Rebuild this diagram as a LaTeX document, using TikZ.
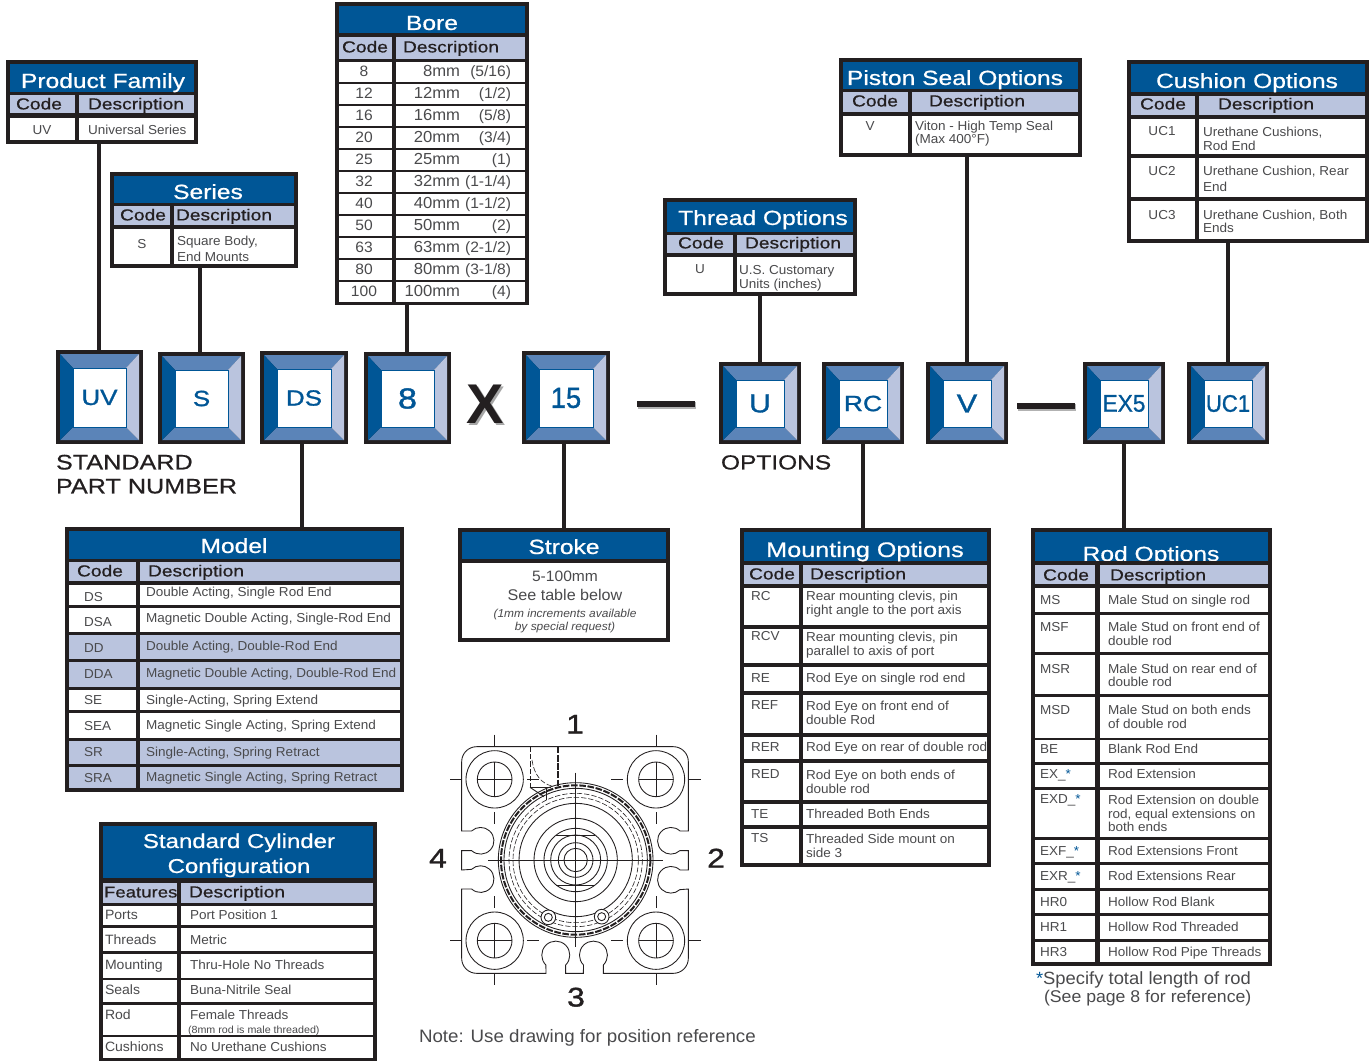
\documentclass[tikz,border=0pt]{standalone}
\usepackage{fontspec}
\usepackage{graphicx}
\setmainfont{Liberation Sans}
\newfontfamily\hdfont[FakeStretch=1.2,FakeBold=0.7]{Liberation Sans}
\newfontfamily\colfont[FakeStretch=1.2,FakeBold=0.6]{Liberation Sans}
\newfontfamily\bgfont[FakeStretch=1.18,FakeBold=1.2]{Liberation Sans}
\newfontfamily\bdfont[FakeStretch=1.04]{Liberation Sans}
\definecolor{ink}{HTML}{231F20}
\definecolor{navy}{HTML}{005696}
\definecolor{lav}{HTML}{BAC4DE}
\definecolor{midb}{HTML}{5B84B8}
\definecolor{txtg}{HTML}{4A4A4C}
\newcounter{tn}
\newcommand{\px}[1]{\fontsize{\fpeval{#1*0.75}}{\fpeval{#1*0.9}}\selectfont}
\tikzset{
 x=0.75pt,y=-0.75pt,
 cellbox/.style={inner sep=0pt,outer sep=0pt,draw=none},
 frame/.style={cellbox,fill=ink},
 head/.style={cellbox,fill=navy},
 colh/.style={cellbox,fill=lav},
 wht/.style={cellbox,fill=white},
 lavrow/.style={cellbox,fill=lav},
 txt/.style={inner sep=0pt,outer sep=0pt,text=txtg,font=\bdfont\px{13}},
 htxt/.style={inner sep=0pt,outer sep=0pt,text=white,yshift=-4.1pt,font=\hdfont\px{20.5}},
 ctxt/.style={inner sep=0pt,outer sep=0pt,text=ink,yshift=-0.7pt,font=\colfont\px{16}},
 labeltxt/.style={inner sep=0pt,outer sep=0pt,text=ink,yshift=-5.2pt,font=\colfont\px{21}},
 numtxt/.style={inner sep=0pt,outer sep=0pt,text=ink,yshift=-4.5pt,font=\bgfont\px{27}},
 link/.style={draw=ink,line width=3pt},
 line/.style={draw=ink,line width=0.65pt},
 cl/.style={draw=ink,line width=0.4pt},
 dsh/.style={draw=ink,line width=0.45pt,dash pattern=on 4pt off 1.5pt},
 dthick/.style={draw=ink,line width=1.5pt,dash pattern=on 5pt off 1.2pt},
}
\newcommand{\rct}[6]{\node[#6,minimum width={(#4-(#2))*0.75pt},minimum height={(#5-(#3))*0.75pt}] (#1) at ({(#2+#4)/2},{(#3+#5)/2}) {};}
\newcommand{\cell}[5]{\stepcounter{tn}\rct{c\thetn}{#1}{#2}{#3}{#4}{#5}}
\newcommand{\tl}[4][txt]{\stepcounter{tn}\node[#1,anchor=base west] (t\thetn) at (#2,{#3+4.5}) {#4};}
\newcommand{\tr}[4][txt]{\stepcounter{tn}\node[#1,anchor=base east] (t\thetn) at (#2,{#3+4.5}) {#4};}
\newcommand{\tcc}[4][txt]{\stepcounter{tn}\node[#1,anchor=base] (t\thetn) at (#2,{#3+4.5}) {#4};}
\newcommand{\shell}[9]{\rct{#1}{#2}{#3}{#4}{#5}{frame}\cell{#2+4}{#3+4}{#4-4}{#6}{head}\cell{#2+4}{#7}{#8}{#9}{colh}}
\newcommand{\badge}[6]{%
 \rct{#1}{#2}{#3}{#4}{#5}{frame}
 \fill[midb] ({#2+4},{#3+4}) -- ({#4-4},{#3+4}) -- ({#4-17},{#3+18}) -- ({#2+17},{#3+18}) -- cycle;
 \fill[midb] ({#2+4},{#5-4}) -- ({#4-4},{#5-4}) -- ({#4-17},{#5-17}) -- ({#2+17},{#5-17}) -- cycle;
 \fill[navy] ({#2+4},{#3+4}) -- ({#2+17},{#3+18}) -- ({#2+17},{#5-17}) -- ({#2+4},{#5-4}) -- cycle;
 \fill[lav] ({#4-4},{#3+4}) -- ({#4-17},{#3+18}) -- ({#4-17},{#5-17}) -- ({#4-4},{#5-4}) -- cycle;
 \node[cellbox,fill=white,draw=navy,line width=0.4pt,text=navy,font=\bgfont\px{22},
   minimum width={(#4-(#2)-34)*0.75pt},minimum height={(#5-(#3)-35)*0.75pt}] (#1face) at ({(#2+#4)/2},{(#3+#5+1)/2}) {#6};}
\newcommand{\borerow}[4]{\cell{339}{#1-10}{392}{#1+10}{wht}\cell{396}{#1-10}{525}{#1+10}{wht}
 \tcc[txt,font=\bdfont\px{15}]{364}{#1}{#2}\tr[txt,font=\bdfont\px{16}]{460}{#1}{#3}\tr[txt,font=\bdfont\px{15}]{511}{#1}{#4}}
\begin{document}
\begin{tikzpicture}
\useasboundingbox (0,0) rectangle (1370,1061);
\fill[white] (0,0) rectangle (1370,1061);

% ---- Product Family
\shell{pf}{6}{60}{198}{144}{92}{95}{75}{113}
\cell{79}{95}{194}{113}{colh}
\cell{10}{118}{75}{140}{wht}\cell{79}{118}{194}{140}{wht}
\tcc[htxt]{103}{78}{Product Family}
\tcc[ctxt]{39}{104}{Code}\tl[ctxt]{88}{104}{Description}
\tcc{42}{130}{UV}\tl{88}{130}{Universal Series}

% ---- Series
\shell{ser}{110}{172}{298}{268}{203}{206}{170}{225}
\cell{174}{206}{294}{225}{colh}
\cell{114}{229}{170}{264}{wht}\cell{174}{229}{294}{264}{wht}
\tcc[htxt]{208}{189}{Series}
\tcc[ctxt]{143}{215}{Code}\tl[ctxt]{176}{215}{Description}
\tcc{142}{244}{S}\tl{177}{241}{Square Body,}\tl{177}{257}{End Mounts}

% ---- Bore
\shell{bore}{335}{2}{529}{305}{33}{37}{392}{59}
\cell{396}{37}{525}{59}{colh}
\tcc[htxt]{432}{20}{Bore}
\tcc[ctxt]{365}{47}{Code}\tl[ctxt]{403}{47}{Description}
\borerow{71.5}{8}{8mm}{(5/16)}
\borerow{93.5}{12}{12mm}{(1/2)}
\borerow{115.5}{16}{16mm}{(5/8)}
\borerow{137.5}{20}{20mm}{(3/4)}
\borerow{159.5}{25}{25mm}{(1)}
\borerow{181.5}{32}{32mm}{(1-1/4)}
\borerow{203.5}{40}{40mm}{(1-1/2)}
\borerow{226}{50}{50mm}{(2)}
\borerow{248}{63}{63mm}{(2-1/2)}
\borerow{270}{80}{80mm}{(3-1/8)}
\borerow{292}{100}{100mm}{(4)}

% ---- Thread Options
\shell{thr}{663}{198}{857}{296}{232}{235}{733}{253}
\cell{737}{235}{853}{253}{colh}
\cell{667}{257}{733}{292}{wht}\cell{737}{257}{853}{292}{wht}
\tcc[htxt]{763}{215}{Thread Options}
\tcc[ctxt]{701}{243}{Code}\tl[ctxt]{745}{243}{Description}
\tcc{700}{269}{U}\tl{739}{270}{U.S. Customary}\tl{739}{284}{Units (inches)}

% ---- Piston Seal Options
\shell{pis}{839}{58}{1082}{157}{89}{92}{908}{112}
\cell{912}{92}{1078}{112}{colh}
\cell{843}{116}{908}{153}{wht}\cell{912}{116}{1078}{153}{wht}
\tcc[htxt]{955}{75}{Piston Seal Options}
\tcc[ctxt]{875}{101}{Code}\tl[ctxt]{929}{101}{Description}
\tcc{870}{126}{V}\tl{915}{126}{Viton - High Temp Seal}\tl{915}{139}{(Max 400°F)}

% ---- Cushion Options
\shell{cus}{1127}{60}{1369}{243}{92}{96}{1195}{115}
\cell{1199}{96}{1365}{115}{colh}
\cell{1131}{119}{1195}{154}{wht}\cell{1199}{119}{1365}{154}{wht}
\cell{1131}{158}{1195}{197}{wht}\cell{1199}{158}{1365}{197}{wht}
\cell{1131}{201}{1195}{239}{wht}\cell{1199}{201}{1365}{239}{wht}
\tcc[htxt]{1247}{78}{Cushion Options}
\tcc[ctxt]{1163}{104}{Code}\tl[ctxt]{1218}{104}{Description}
\tcc{1162}{131}{UC1}\tl{1203}{132}{Urethane Cushions,}\tl{1203}{146}{Rod End}
\tcc{1162}{171}{UC2}\tl{1203}{171}{Urethane Cushion, Rear}\tl{1203}{187}{End}
\tcc{1162}{215}{UC3}\tl{1203}{215}{Urethane Cushion, Both}\tl{1203}{228}{Ends}

% ---- Badges
\badge{uv}{56}{350}{143}{444}{UV}
\badge{s}{158}{352}{245}{444}{S}
\badge{ds}{260}{351}{348}{444}{DS}
\badge{eight}{364}{352}{451}{444}{\px{29}8}
\badge{fifteen}{522}{351}{610}{444}{\px{29}\scalebox{0.8}[1]{15}}
\badge{u}{719}{362}{801}{444}{\px{26}U}
\badge{rc}{822}{362}{904}{444}{\scalebox{1.02}[1]{RC}}
\badge{v}{926}{362}{1008}{444}{\px{26}V}
\badge{ex}{1083}{362}{1165}{444}{\px{24}\scalebox{0.8}[1]{EX5}}
\badge{uc}{1187}{362}{1269}{444}{\px{24}\scalebox{0.78}[1]{UC1}}

% ---- X and dashes
\node[inner sep=0pt,text=gray!70,font=\bfseries\px{56}] (xsh) at (487,406) {X};
\node[inner sep=0pt,text=ink,font=\bfseries\px{56}] (xmark) at (485,404) {X};
\rct{d1s}{638}{402}{696}{409}{cellbox,fill=gray!60}
\rct{d1}{637}{401}{695}{407}{frame}
\rct{d2s}{1018}{404}{1076}{411}{cellbox,fill=gray!60}
\rct{d2}{1017}{403}{1075}{409}{frame}

\tl[labeltxt]{56}{458}{STANDARD}
\tl[labeltxt]{56}{482}{PART NUMBER}
\tl[labeltxt,font=\colfont\px{20.4}]{721}{458}{OPTIONS}

% ---- Model
\shell{model}{65}{527}{404}{792}{559}{562}{136}{581}
\cell{140}{562}{400}{581}{colh}
\tcc[htxt]{234}{543}{Model}
\tcc[ctxt]{100}{571}{Code}\tl[ctxt]{148}{571}{Description}
\cell{69}{585}{136}{605}{wht}\cell{140}{585}{400}{605}{wht}
\cell{69}{608}{136}{632}{wht}\cell{140}{608}{400}{632}{wht}
\cell{69}{635}{136}{659}{lavrow}\cell{140}{635}{400}{659}{lavrow}
\cell{69}{662}{136}{687}{lavrow}\cell{140}{662}{400}{687}{lavrow}
\cell{69}{690}{136}{710}{wht}\cell{140}{690}{400}{710}{wht}
\cell{69}{713}{136}{738}{wht}\cell{140}{713}{400}{738}{wht}
\cell{69}{741}{136}{764}{lavrow}\cell{140}{741}{400}{764}{lavrow}
\cell{69}{767}{136}{788}{lavrow}\cell{140}{767}{400}{788}{lavrow}
\tl{84}{597}{DS}\tl{146}{592}{Double Acting, Single Rod End}
\tl{84}{622}{DSA}\tl{146}{618}{Magnetic Double Acting, Single-Rod End}
\tl{84}{648}{DD}\tl{146}{646}{Double Acting, Double-Rod End}
\tl{84}{674}{DDA}\tl{146}{673}{Magnetic Double Acting, Double-Rod End}
\tl{84}{700}{SE}\tl{146}{700}{Single-Acting, Spring Extend}
\tl{84}{726}{SEA}\tl{146}{725}{Magnetic Single Acting, Spring Extend}
\tl{84}{752}{SR}\tl{146}{752}{Single-Acting, Spring Retract}
\tl{84}{778}{SRA}\tl{146}{777}{Magnetic Single Acting, Spring Retract}

% ---- Stroke
\rct{stroke}{458}{528}{670}{642}{frame}
\cell{462}{532}{666}{559}{head}
\cell{462}{563}{666}{638}{wht}
\tcc[htxt]{564}{544}{Stroke}
\tcc[txt,font=\bdfont\px{15}]{565}{577}{5-100mm}
\tcc[txt,font=\bdfont\px{15.5}]{565}{596}{See table below}
\tcc[txt,font=\bdfont\itshape\px{11.5}]{565}{613}{(1mm increments available}
\tcc[txt,font=\bdfont\itshape\px{11.5}]{565}{626}{by special request)}

% ---- Mounting Options
\shell{mount}{740}{528}{991}{867}{561}{565}{799}{584}
\cell{803}{565}{987}{584}{colh}
\tcc[htxt,font=\hdfont\px{21}]{865}{547}{Mounting Options}
\tcc[ctxt]{772}{574}{Code}\tl[ctxt]{810}{574}{Description}
\cell{744}{588}{799}{625}{wht}\cell{803}{588}{987}{625}{wht}
\cell{744}{629}{799}{663}{wht}\cell{803}{629}{987}{663}{wht}
\cell{744}{667}{799}{691}{wht}\cell{803}{667}{987}{691}{wht}
\cell{744}{695}{799}{733}{wht}\cell{803}{695}{987}{733}{wht}
\cell{744}{737}{799}{759}{wht}\cell{803}{737}{987}{759}{wht}
\cell{744}{763}{799}{800}{wht}\cell{803}{763}{987}{800}{wht}
\cell{744}{804}{799}{825}{wht}\cell{803}{804}{987}{825}{wht}
\cell{744}{829}{799}{863}{wht}\cell{803}{829}{987}{863}{wht}
\tl{751}{596}{RC}\tl{806}{596}{Rear mounting clevis, pin}\tl{806}{610}{right angle to the port axis}
\tl{751}{636}{RCV}\tl{806}{637}{Rear mounting clevis, pin}\tl{806}{651}{parallel to axis of port}
\tl{751}{678}{RE}\tl{806}{678}{Rod Eye on single rod end}
\tl{751}{705}{REF}\tl{806}{706}{Rod Eye on front end of}\tl{806}{720}{double Rod}
\tl{751}{747}{RER}\tl{806}{747}{Rod Eye on rear of double rod}
\tl{751}{774}{RED}\tl{806}{775}{Rod Eye on both ends of}\tl{806}{789}{double rod}
\tl{751}{814}{TE}\tl{806}{814}{Threaded Both Ends}
\tl{751}{838}{TS}\tl{806}{839}{Threaded Side mount on}\tl{806}{853}{side 3}

% ---- Rod Options
\shell{rod}{1031}{528}{1272}{966}{561}{565}{1095}{584}
\cell{1100}{565}{1268}{584}{colh}
\begin{scope}
\clip (1035,533) rectangle (1268,560);
\tcc[htxt]{1151}{551}{Rod Options}
\end{scope}
\tcc[ctxt]{1066}{575}{Code}\tl[ctxt]{1110}{575}{Description}
\cell{1035}{588}{1095}{612}{wht}\cell{1100}{588}{1268}{612}{wht}
\cell{1035}{615}{1095}{652}{wht}\cell{1100}{615}{1268}{652}{wht}
\cell{1035}{655}{1095}{694}{wht}\cell{1100}{655}{1268}{694}{wht}
\cell{1035}{697}{1095}{738}{wht}\cell{1100}{697}{1268}{738}{wht}
\cell{1035}{740}{1095}{762}{wht}\cell{1100}{740}{1268}{762}{wht}
\cell{1035}{765}{1095}{787}{wht}\cell{1100}{765}{1268}{787}{wht}
\cell{1035}{790}{1095}{837}{wht}\cell{1100}{790}{1268}{837}{wht}
\cell{1035}{840}{1095}{862}{wht}\cell{1100}{840}{1268}{862}{wht}
\cell{1035}{865}{1095}{888}{wht}\cell{1100}{865}{1268}{888}{wht}
\cell{1035}{891}{1095}{913}{wht}\cell{1100}{891}{1268}{913}{wht}
\cell{1035}{916}{1095}{939}{wht}\cell{1100}{916}{1268}{939}{wht}
\cell{1035}{942}{1095}{962}{wht}\cell{1100}{942}{1268}{962}{wht}
\tl{1040}{600}{MS}\tl{1108}{600}{Male Stud on single rod}
\tl{1040}{627}{MSF}\tl{1108}{627}{Male Stud on front end of}\tl{1108}{641}{double rod}
\tl{1040}{669}{MSR}\tl{1108}{669}{Male Stud on rear end of}\tl{1108}{682}{double rod}
\tl{1040}{710}{MSD}\tl{1108}{710}{Male Stud on both ends}\tl{1108}{724}{of double rod}
\tl{1040}{749}{BE}\tl{1108}{749}{Blank Rod End}
\tl{1040}{774}{EX\_\textcolor{navy}{*}}\tl{1108}{774}{Rod Extension}
\tl{1040}{799}{EXD\_\textcolor{navy}{*}}\tl{1108}{800}{Rod Extension on double}\tl{1108}{814}{rod, equal extensions on}\tl{1108}{827}{both ends}
\tl{1040}{851}{EXF\_\textcolor{navy}{*}}\tl{1108}{851}{Rod Extensions Front}
\tl{1040}{876}{EXR\_\textcolor{navy}{*}}\tl{1108}{876}{Rod Extensions Rear}
\tl{1040}{902}{HR0}\tl{1108}{902}{Hollow Rod Blank}
\tl{1040}{927}{HR1}\tl{1108}{927}{Hollow Rod Threaded}
\tl{1040}{952}{HR3}\tl{1108}{952}{Hollow Rod Pipe Threads}
\tl[txt,font=\bdfont\px{17.7}]{1036}{980}{\textcolor{navy}{*}Specify total length of rod}
\tl[txt,font=\bdfont\px{17}]{1044}{998}{(See page 8 for reference)}

% ---- Standard Cylinder Configuration
\shell{std}{99}{822}{377}{1061}{878}{883}{177}{903}
\cell{181}{883}{373}{903}{colh}
\tcc[htxt,font=\hdfont\px{20}]{239}{838}{Standard Cylinder}
\tcc[htxt,font=\hdfont\px{20}]{239}{863}{Configuration}
\tl[ctxt,font=\colfont\px{15.5}]{104}{892}{Features}\tl[ctxt]{189}{892}{Description}
\cell{103}{906}{177}{925}{wht}\cell{181}{906}{373}{925}{wht}
\cell{103}{928}{177}{951}{wht}\cell{181}{928}{373}{951}{wht}
\cell{103}{954}{177}{978}{wht}\cell{181}{954}{373}{978}{wht}
\cell{103}{980}{177}{1002}{wht}\cell{181}{980}{373}{1002}{wht}
\cell{103}{1005}{177}{1035}{wht}\cell{181}{1005}{373}{1035}{wht}
\cell{103}{1037}{177}{1058}{wht}\cell{181}{1037}{373}{1058}{wht}
\tl[txt,font=\bdfont\px{13.5}]{105}{915}{Ports}\tl{190}{915}{Port Position 1}
\tl[txt,font=\bdfont\px{13.5}]{105}{940}{Threads}\tl{190}{940}{Metric}
\tl[txt,font=\bdfont\px{13.5}]{105}{965}{Mounting}\tl{190}{965}{Thru-Hole No Threads}
\tl[txt,font=\bdfont\px{13.5}]{105}{990}{Seals}\tl{190}{990}{Buna-Nitrile Seal}
\tl[txt,font=\bdfont\px{13.5}]{105}{1015}{Rod}\tl{190}{1015}{Female Threads}
\tl[txt,font=\bdfont\px{10.3}]{188}{1029}{(8mm rod is male threaded)}
\tl[txt,font=\bdfont\px{13.5}]{105}{1047}{Cushions}\tl{190}{1047}{No Urethane Cushions}

% ---- Connectors
\draw[link] ([xshift=-0.7pt]uv.north |- pf.south) -- ([xshift=-0.7pt]uv.north);
\draw[link] ([xshift=-1pt]s.north |- ser.south) -- ([xshift=-1pt]s.north);
\draw[link] ([xshift=-0.5pt]eight.north |- bore.south) -- ([xshift=-0.5pt]eight.north);
\draw[link] (thr.south -| u.north) -- (u.north);
\draw[link] (pis.south -| v.north) -- (v.north);
\draw[link] (cus.south -| uc.north) -- (uc.north);
\draw[link] ([xshift=-1.5pt]ds.south) -- ([xshift=-1.5pt]ds.south |- model.north);
\draw[link] ([xshift=-1.5pt]fifteen.south) -- ([xshift=-1.5pt]fifteen.south |- stroke.north);
\draw[link] (rc.south) -- (rc.south |- mount.north);
\draw[link] (ex.south) -- (ex.south |- rod.north);

% ---- Cylinder end view
\tcc[numtxt]{575}{723}{1}
\tcc[numtxt]{716}{857}{2}
\tcc[numtxt]{576}{996}{3}
\tcc[numtxt]{438}{857}{4}
\begin{scope}[shift={(420,700)},x=0.25pt,y=-0.25pt]
 \draw[line] (170,140) -- (760,140) arc[start angle=-90,end angle=0,radius=45]
  -- (805,393) -- (780,393) arc[start angle=-47,end angle=-312,radius=40]
  -- (805,452) -- (805,510) -- (780,510) arc[start angle=-47,end angle=-312,radius=40]
  -- (805,567) -- (805,775) arc[start angle=0,end angle=90,radius=45]
  -- (550,820) -- (550,795) arc[start angle=45,end angle=-225,radius=42]
  -- (490,820) -- (437,820) -- (437,795) arc[start angle=45,end angle=-225,radius=42]
  -- (378,820) -- (170,820) arc[start angle=90,end angle=180,radius=45]
  -- (125,567) -- (155,567) arc[start angle=132,end angle=-133,radius=40]
  -- (125,510) -- (125,452) -- (155,452) arc[start angle=132,end angle=-133,radius=40]
  -- (125,393) -- (125,185) arc[start angle=180,end angle=270,radius=45] -- cycle;
 \foreach \cx/\cy in {224/238,708/238,224/722,708/722}{
  \draw[line] (\cx,\cy) circle[radius=86];
  \draw[line] (\cx,\cy) circle[radius=52];
  \draw[cl] ({\cx-134},\cy) -- ({\cx-98},\cy);
  \draw[cl] ({\cx-52},\cy) -- ({\cx+52},\cy);
  \draw[cl] ({\cx+98},\cy) -- ({\cx+134},\cy);
  \draw[cl] (\cx,{\cy-134}) -- (\cx,{\cy-98});
  \draw[cl] (\cx,{\cy-52}) -- (\cx,{\cy+52});
  \draw[cl] (\cx,{\cy+98}) -- (\cx,{\cy+134});
 }
 \foreach \r in {35,52,75,95,125,170}{\draw[line] (467,480) circle[radius=\r];}
 \draw[dsh] (467,480) circle[radius=188];
 \draw[dsh] (467,480) circle[radius=200];
 \draw[line] (467,480) circle[radius=215];
 \draw[dthick] (467,480) circle[radius=224];
 \draw[line] (467,480) circle[radius=232];
 \draw[line] (408,405) -- (526,405);
 \draw[line] (408,555) -- (526,555);
 \draw[cl] (205,480) -- (730,480);
 \draw[cl] (467,218) -- (467,742);
 \draw[dsh] (330,140) -- (330,262);
 \draw[dthick] (415,140) -- (415,260);
 \draw[dsh] (336,180) .. controls (342,225) and (365,250) .. (395,258);
 \draw[line] (330,262) -- (392,262);
 \draw[line] (330,262) -- (372,290);
 \draw[line] (380,262) -- (380,300);
 \foreach \cx/\cy in {385/652,545/650}{
  \draw[line,fill=white] (\cx,\cy) circle[radius=22];
  \draw[line] (\cx,\cy) circle[radius=12];
 }
\end{scope}
\tl[txt,font=\bdfont\px{18}]{419}{1038}{Note: Use drawing for position reference}
\end{tikzpicture}
\end{document}
